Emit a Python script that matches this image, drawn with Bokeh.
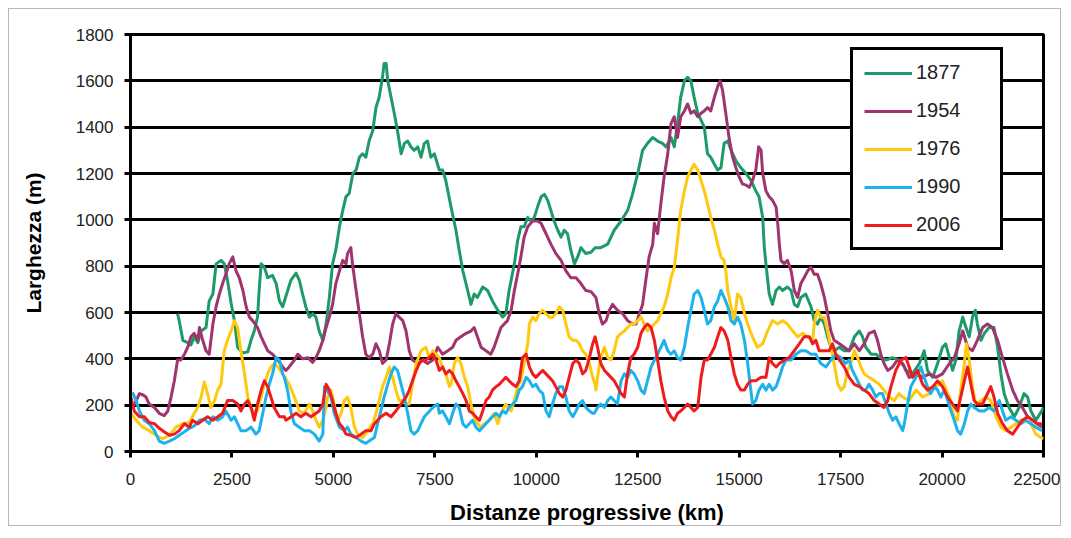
from bokeh.plotting import figure
from bokeh.models import Legend, LegendItem, Range1d, FixedTicker
from bokeh.embed import file_html
from bokeh.resources import INLINE

# ---------------- data (distance km, width m) ----------------
X_1877 = [1160,1200,1290,1410,1490,1570,1660,1740,1860,1940,2030,2110,2230,2310,2390,2480,2560,2640,2760,2890,
          2970,3050,3130,3170,3220,3300,3380,3500,3590,3670,3750,3830,
          3955,4080,4160,4240,4320,4410,4490,4570,4650,4740,4820,4900,4980,5060,5150,5230,5310,5390,5480,5560,
          5640,5720,5800,5880,5970,6050,6130,6210,6250,6300,6340,6420,6500,6580,6670,6750,6830,6910,6990,7080,
          7160,7240,7320,7400,7490,
          7610,7690,7770,7900,8020,8100,8190,8310,8390,8470,8550,8680,8800,8920,9050,9170,9250,9330,9460,9540,
          9620,9700,9790,9870,9950,10030,10120,10200,10280,10360,10440,10530,10610,10690,10770,10850,10940,11020,
          11100,11220,11350,11450,
          11590,11760,11920,12090,12250,12370,12500,12620,12740,12870,12990,13110,13200,13320,13400,13480,13560,
          13650,13730,13810,13890,13980,14060,14140,14220,14300,14390,14470,14550,14630,14720,14800,14920,15040,15170,
          15290,15410,15490,15580,15620,15660,15740,15820,15910,15990,16070,16190,16280,16360,16440,16520,16640,
          16770,16850,16930,17010,17100,17180,17260,17340,17470,17590,17710,17840,17960,18040,18120,18250,18370,
          18490,18620,18780,18940,19070,
          19110,19270,19440,19560,19640,19770,19890,20010,20090,20180,20260,20340,20420,20510,20590,20670,20750,
          20820,20870,20960,21040,21160,21280,21370,21450,21530,21650,21780,21900,22020,22110,22190,22310,22440,22500]
Y_1877 = [595,565,480,470,460,495,470,520,535,650,680,810,825,810,740,640,565,450,425,430,
          480,520,580,695,810,795,750,760,725,650,625,670,
          740,770,740,680,625,580,595,580,520,480,550,665,810,870,970,1040,1100,1115,1200,1215,
          1270,1285,1270,1340,1385,1485,1530,1615,1675,1675,1600,1530,1460,1385,1285,1330,1340,1315,1300,1315,
          1270,1330,1340,1270,1285,
          1215,1215,1170,1055,955,870,780,695,635,680,665,710,695,650,610,580,595,695,810,910,
          970,970,1010,995,1010,1055,1100,1110,1085,1040,995,955,925,955,940,870,810,840,
          880,855,860,880,
          880,895,955,995,1040,1110,1200,1300,1330,1355,1340,1330,1315,1355,1315,1415,1530,
          1600,1615,1600,1530,1460,1430,1400,1285,1270,1240,1215,1225,1330,1340,1300,1255,1225,1200,
          1170,1125,1100,1010,880,810,680,635,695,710,695,710,695,635,625,665,680,
          625,565,550,580,550,495,450,435,450,435,435,495,520,495,450,420,420,
          405,395,405,395,365,
          350,335,380,435,350,320,380,450,465,405,350,395,520,580,535,495,580,
          610,550,480,510,535,535,450,335,250,190,150,190,250,235,175,135,170,190]

X_1954 = [90,220,300,380,460,590,710,830,920,1000,1080,1160,1240,1330,1410,1490,1570,1660,1700,1780,
          1860,1940,2030,2110,2190,2270,2350,2430,2520,2600,2680,2770,2850,2930,3010,3130,3220,3300,3380,3500,
          3630,3750,
          3830,3910,4040,4120,4240,4370,4490,4570,4650,4740,4820,4900,4980,5060,5150,5230,5310,5350,5430,5470,
          5560,5640,5720,5800,5880,5970,6050,6130,6210,6300,6380,6460,6540,6620,6710,6790,6870,6950,7080,7200,
          7320,7450,7570,
          7690,7820,7940,8020,8140,8270,8390,8470,8550,8640,8760,8880,8960,9050,9130,9210,9290,9380,9460,9540,
          9620,9700,9790,9910,10030,10120,10200,10280,10360,10480,10610,10730,10850,10980,11100,11220,11350,
          11470,11550,11630,11720,11800,11880,12000,12130,12250,12370,12460,12540,12620,12700,12780,12870,12910,
          12990,13070,13150,13240,13320,13400,13480,13560,13650,13730,13810,13890,13980,14060,14140,14220,14300,
          14390,14470,14530,14590,14670,14750,14840,14920,15000,15080,15170,
          15250,15330,15410,15480,15540,15580,15660,15740,15820,15910,15950,15990,16030,16110,16190,16280,16360,
          16440,16520,16600,16690,16770,16850,16930,17010,17100,17180,17260,17340,17470,17590,17710,17840,17960,
          18080,18200,18330,18410,18490,18570,18660,18780,18900,19030,
          19190,19360,19520,19680,19850,20010,20180,20300,20420,20510,20630,20750,20870,21000,21120,21240,21370,
          21490,21610,21740,21860,21980,22110,22230,22350,22460]
Y_1954 = [200,250,245,235,205,190,165,155,175,235,305,395,395,420,450,495,510,480,535,480,
          435,420,550,625,680,725,765,810,840,780,750,695,625,580,565,535,495,465,435,420,
          395,365,
          350,365,395,420,400,405,385,405,435,480,535,580,635,725,780,825,810,855,880,810,
          695,595,495,420,405,420,465,435,380,395,465,550,595,580,565,520,435,395,380,395,
          380,395,450,
          420,435,450,480,495,510,520,535,495,450,435,420,450,495,535,550,565,610,695,765,
          840,925,970,995,995,985,955,925,895,855,825,780,750,750,725,695,690,
          665,595,550,565,610,635,610,595,565,550,550,595,635,740,840,895,985,
          940,1070,1185,1285,1415,1445,1355,1445,1470,1500,1460,1470,1445,1460,1470,1485,1470,
          1530,1575,1600,1560,1460,1355,1270,1225,1185,1155,1150,
          1140,1170,1215,1315,1300,1200,1125,1100,1085,1055,985,895,825,810,825,780,695,
          665,725,750,780,795,765,765,725,665,595,520,480,465,450,435,465,435,
          465,510,520,480,420,380,350,365,395,380,
          320,335,320,335,320,335,380,405,465,520,450,435,480,535,550,535,480,
          405,335,265,220,190,150,135,120,105]

X_1976 = [10,140,300,460,630,790,960,1120,1290,1450,1570,1660,1740,1820,1900,1980,2070,2150,2230,2310,
          2390,2480,2560,2640,2720,2810,2890,2970,3050,3130,3220,3300,3380,3460,3540,3630,3750,
          3910,4040,4160,4280,4410,4490,4570,4650,4740,4820,4860,4940,5020,5110,5190,5270,5350,5430,5520,5600,
          5720,5840,5970,6050,6130,6210,6300,6380,6460,6540,6620,6710,6790,6870,6950,7040,7160,7280,7360,7450,7530,
          7610,7690,7770,7860,7900,7980,8060,8140,8230,8310,8390,8470,8550,8640,8720,8840,8960,9050,9130,9250,
          9380,9460,9540,9620,9700,9790,9830,9910,9990,10070,10160,10240,10320,10400,10480,10570,10650,10730,
          10810,10900,10980,11060,11140,11220,11310,11390,11450,
          11470,11510,11590,11680,11760,11840,11920,12000,12090,12170,12250,12330,12410,12500,12580,12660,12740,
          12830,12910,12990,13070,13150,13240,13320,13400,13480,13560,13650,13730,13810,13890,13980,14060,14140,
          14220,14300,14390,14470,14550,14630,14670,14720,14800,14880,14960,15040,15130,15210,15270,
          15330,15450,15580,15700,15820,15950,16070,16190,16320,16440,16560,16690,16810,16850,16930,17010,17100,
          17180,17260,17340,17430,17510,17590,17670,17750,17840,17920,18000,18080,18200,18330,18450,18570,18700,
          18820,18940,
          19030,19190,19360,19520,19680,19850,20010,20180,20300,20380,20460,20550,20600,20670,20750,20830,20960,
          21080,21200,21330,21450,21570,21700,21820,21940,22060,22190,22310,22440,22500]
Y_1976 = [165,135,105,90,70,55,70,105,120,125,165,190,235,300,250,190,220,265,290,435,
          480,520,565,535,435,335,235,190,165,175,235,290,335,365,380,365,335,
          290,235,175,165,205,175,135,105,135,190,235,265,205,135,165,220,235,190,105,75,
          60,90,120,165,220,280,320,365,320,265,220,220,205,205,290,380,435,450,405,435,420,
          405,365,335,280,290,380,405,380,320,280,205,150,120,105,120,135,165,120,165,205,
          175,220,280,305,380,465,550,580,565,595,610,595,580,580,595,625,610,550,
          495,480,480,465,435,420,380,320,290,
          265,320,405,450,405,395,435,495,510,520,535,550,550,565,580,550,520,
          535,550,565,595,625,680,750,795,910,1040,1125,1185,1215,1240,1215,1170,1125,
          1070,1010,955,895,840,825,780,695,625,565,680,665,595,550,520,
          495,450,465,520,565,550,565,550,520,495,510,495,480,550,610,580,580,
          520,450,380,290,265,280,350,380,435,405,365,335,320,305,290,265,235,
          220,250,
          235,220,265,235,250,280,305,235,150,135,265,380,465,395,280,205,220,
          235,220,150,105,90,105,120,135,135,120,75,60,55]

X_1990 = [50,140,220,340,460,590,710,830,960,1080,1200,1330,1450,1570,1700,1820,1940,2030,2150,2270,
          2350,2480,2560,2640,2720,2850,2970,3090,3170,3260,3340,3420,3500,3590,3670,3750,
          3790,3870,3960,4040,4160,4280,4410,4530,4650,4740,4780,4860,4940,5020,5150,5270,5350,5430,5560,5680,
          5800,5880,6010,6090,6170,6250,6340,6420,6500,6580,6670,6750,6830,6910,6990,7080,7160,7240,7320,7450,7570,
          7610,7690,7770,7860,7940,8020,8100,8190,8270,8350,8430,8510,8600,8680,8760,8840,8920,9010,9090,9170,
          9250,9330,9420,9500,9580,9660,9750,9830,9910,9990,10070,10160,10240,10320,10400,10480,10570,10650,10730,
          10810,10900,10980,11060,11140,11220,11310,11390,
          11430,11510,11590,11680,11760,11840,11920,12000,12090,12170,12250,12330,12410,12500,12580,12660,12740,
          12830,12910,12990,13070,13150,13240,13320,13400,13480,13560,13650,13730,13810,13890,13980,14060,14140,
          14220,14300,14390,14470,14550,14630,14720,14800,14880,14960,15040,15130,15210,15270,
          15330,15410,15490,15580,15660,15740,15820,15910,15990,16070,16150,16280,16400,16520,16640,16770,16890,
          17010,17140,17260,17380,17510,17630,17710,17790,17880,17960,18040,18120,18200,18290,18370,18450,18530,
          18620,18700,18780,18860,18940,19030,
          19070,19150,19230,19310,19400,19480,19560,19640,19720,19810,19890,19970,20050,20140,20220,20300,20380,
          20460,20550,20630,20710,20790,20920,21040,21160,21280,21410,21490,21570,21700,21820,21940,22060,22190,
          22310,22460]
Y_1990 = [255,220,175,135,120,90,45,35,45,55,70,85,100,110,135,140,120,150,135,150,
          175,135,150,120,90,90,105,75,90,165,235,290,335,405,395,335,
          320,265,165,120,105,90,90,75,45,75,280,260,235,165,105,90,105,75,60,45,
          35,45,60,120,175,235,290,335,365,350,290,235,165,90,75,90,120,150,165,190,205,
          165,175,150,120,165,205,190,120,105,120,135,105,90,105,120,135,150,165,150,175,
          165,190,205,220,265,280,320,305,280,290,265,250,175,150,205,250,280,280,235,
          175,150,175,205,220,190,175,165,
          165,190,205,190,220,235,220,205,305,335,320,350,335,305,265,250,305,
          365,395,420,450,480,435,420,435,405,395,450,535,610,680,695,665,610,
          550,565,625,650,695,665,625,565,550,580,550,480,380,290,
          205,220,265,290,265,290,265,280,320,365,395,395,420,435,435,420,420,
          380,365,395,420,405,380,395,350,320,290,265,265,290,265,235,250,250,
          205,165,135,150,120,90,
          120,205,280,305,335,365,320,280,250,280,265,235,265,220,175,135,90,
          75,120,175,205,190,175,175,190,175,220,175,135,150,135,120,135,120,
          105,90]

X_2006 = [10,90,220,340,460,590,710,830,960,1080,1200,1330,1450,1530,1660,1780,1900,2030,2150,2270,
          2390,2520,2640,2720,2810,2890,2970,3050,3130,3220,3300,3380,3460,3540,3670,3790,
          3830,3960,4080,4200,4320,4450,4570,4650,4740,4820,4900,4980,5060,5150,5230,5310,5430,5560,5680,5800,
          5930,6010,6090,6170,6300,6420,6540,6670,6790,6870,6950,7040,7120,7200,7280,7360,7450,7530,
          7610,7690,7770,7860,7940,8020,8100,8190,8270,8350,8430,8510,8600,8680,8760,8840,8920,9010,9090,9170,
          9250,9330,9420,9500,9580,9660,9750,9830,9910,9990,10070,10160,10240,10320,10400,10480,10570,10650,10730,
          10810,10900,10980,11060,11140,11220,11310,11390,11450,
          11510,11590,11680,11760,11840,11920,12000,12090,12170,12250,12330,12410,12500,12580,12660,12740,12830,
          12910,12990,13070,13150,13240,13320,13400,13480,13560,13650,13730,13810,13890,13980,14060,14140,14220,
          14300,14390,14470,14550,14630,14720,14800,14880,14960,15040,15130,15210,
          15290,15410,15540,15660,15740,15820,15910,15990,16110,16230,16360,16480,16600,16730,16810,16890,16970,
          17100,17220,17300,17380,17470,17590,17710,17840,17960,18080,18200,18330,18450,18570,18660,18740,18860,18990,
          19110,19190,19270,19400,19520,19640,19770,19890,20010,20140,20260,20380,20460,20550,20630,20710,20790,
          20870,21000,21120,21200,21280,21370,21490,21610,21740,21860,21980,22110,22230,22350,22460]
Y_2006 = [235,175,150,150,125,120,100,85,70,75,90,120,105,135,120,135,150,135,150,165,
          220,220,205,175,205,220,190,135,205,265,305,280,235,190,150,150,
          135,150,165,150,165,150,165,175,205,290,265,220,165,120,105,75,70,60,75,90,
          90,120,135,150,165,150,175,205,235,265,305,350,380,395,395,405,420,395,
          350,365,335,350,335,305,280,250,220,175,165,150,135,175,220,235,265,280,290,305,
          320,305,290,280,305,405,420,365,335,320,335,350,335,320,305,280,250,235,265,
          320,380,395,380,335,350,405,465,495,
          450,380,350,335,320,305,280,250,235,335,405,420,450,510,535,550,535,
          480,395,305,235,175,150,135,165,175,190,205,190,175,190,320,395,395,
          420,450,495,535,520,480,405,335,290,265,265,290,
          305,305,320,320,405,380,365,380,395,405,435,465,495,495,465,480,435,
          435,435,465,420,395,365,320,290,280,265,250,220,205,190,220,280,350,395,
          405,365,320,350,290,265,280,305,280,235,205,175,235,305,365,290,220,
          205,205,250,280,235,165,120,90,75,105,135,150,135,120,120]

YEARS = ["1877", "1954", "1976", "1990", "2006"]
COLORS = ["#1E9A6A", "#A0346F", "#FFC90E", "#1EB2EC", "#EE1C1C"]
X_TICKS = [0, 2500, 5000, 7500, 10000, 12500, 15000, 17500, 20000, 22500]
Y_TICKS = [0, 200, 400, 600, 800, 1000, 1200, 1400, 1600, 1800]

SERIES = [(X_1877, Y_1877), (X_1954, Y_1954), (X_1976, Y_1976), (X_1990, Y_1990), (X_2006, Y_2006)]

FONT = "Liberation Sans"

p = figure(width=1053, height=518, output_backend="svg", toolbar_location=None,
           x_range=Range1d(0, 22500), y_range=Range1d(0, 1800),
           min_border_left=121, min_border_right=19, min_border_top=25, min_border_bottom=76)
p.margin = (8, 8, 8, 8)
p.styles = {"border": "1px solid #b8b8b8"}
p.background_fill_color = "white"
p.border_fill_color = "white"
p.outline_line_color = "black"
p.outline_line_width = 3
p.outline_line_alpha = 1.0

renderers = []
for (xs, ys), col in zip(SERIES, COLORS):
    n = min(len(xs), len(ys))
    r = p.line(xs[:n], ys[:n], line_color=col, line_width=3, line_join="round")
    renderers.append(r)

p.xgrid.visible = False
p.ygrid.grid_line_color = "black"
p.ygrid.grid_line_width = 3
p.ygrid.grid_line_alpha = 1.0
p.ygrid.ticker = FixedTicker(ticks=Y_TICKS)

for ax in (p.xaxis[0], p.yaxis[0]):
    ax.axis_line_color = "black"
    ax.axis_line_width = 3
    ax.major_tick_line_color = "black"
    ax.major_tick_line_width = 3
    ax.major_tick_out = 6
    ax.major_tick_in = 0
    ax.minor_tick_line_color = None
    ax.major_label_text_font = FONT
    ax.major_label_text_font_size = "17px"
    ax.major_label_text_color = "#222222"
    ax.axis_label_text_font = FONT
    ax.axis_label_text_font_style = "bold"
    ax.axis_label_text_color = "black"

p.xaxis.ticker = FixedTicker(ticks=X_TICKS)
p.yaxis.ticker = FixedTicker(ticks=Y_TICKS)
p.xaxis.major_label_standoff = 15
p.yaxis.major_label_standoff = 11
p.xaxis.axis_label = "Distanze progressive (km)"
p.yaxis.axis_label = "Larghezza (m)"
p.xaxis.axis_label_text_font_size = "22px"
p.yaxis.axis_label_text_font_size = "21px"
p.xaxis.axis_label_standoff = 12
p.yaxis.axis_label_standoff = 28

legend = Legend(items=[LegendItem(label=y, renderers=[r]) for y, r in zip(YEARS, renderers)],
                location=(720, 201))
legend.border_line_color = "black"
legend.border_line_width = 3
legend.border_line_alpha = 1.0
legend.background_fill_color = "white"
legend.background_fill_alpha = 1.0
legend.padding = 11
legend.spacing = 15
legend.glyph_width = 48
legend.glyph_height = 20
legend.label_height = 20
legend.label_width = 73
legend.label_standoff = 4
legend.label_text_font = FONT
legend.label_text_font_size = "20px"
legend.label_text_color = "#222222"
legend.margin = 0
p.add_layout(legend)

open("out.html", "w").write(file_html(p, INLINE))
